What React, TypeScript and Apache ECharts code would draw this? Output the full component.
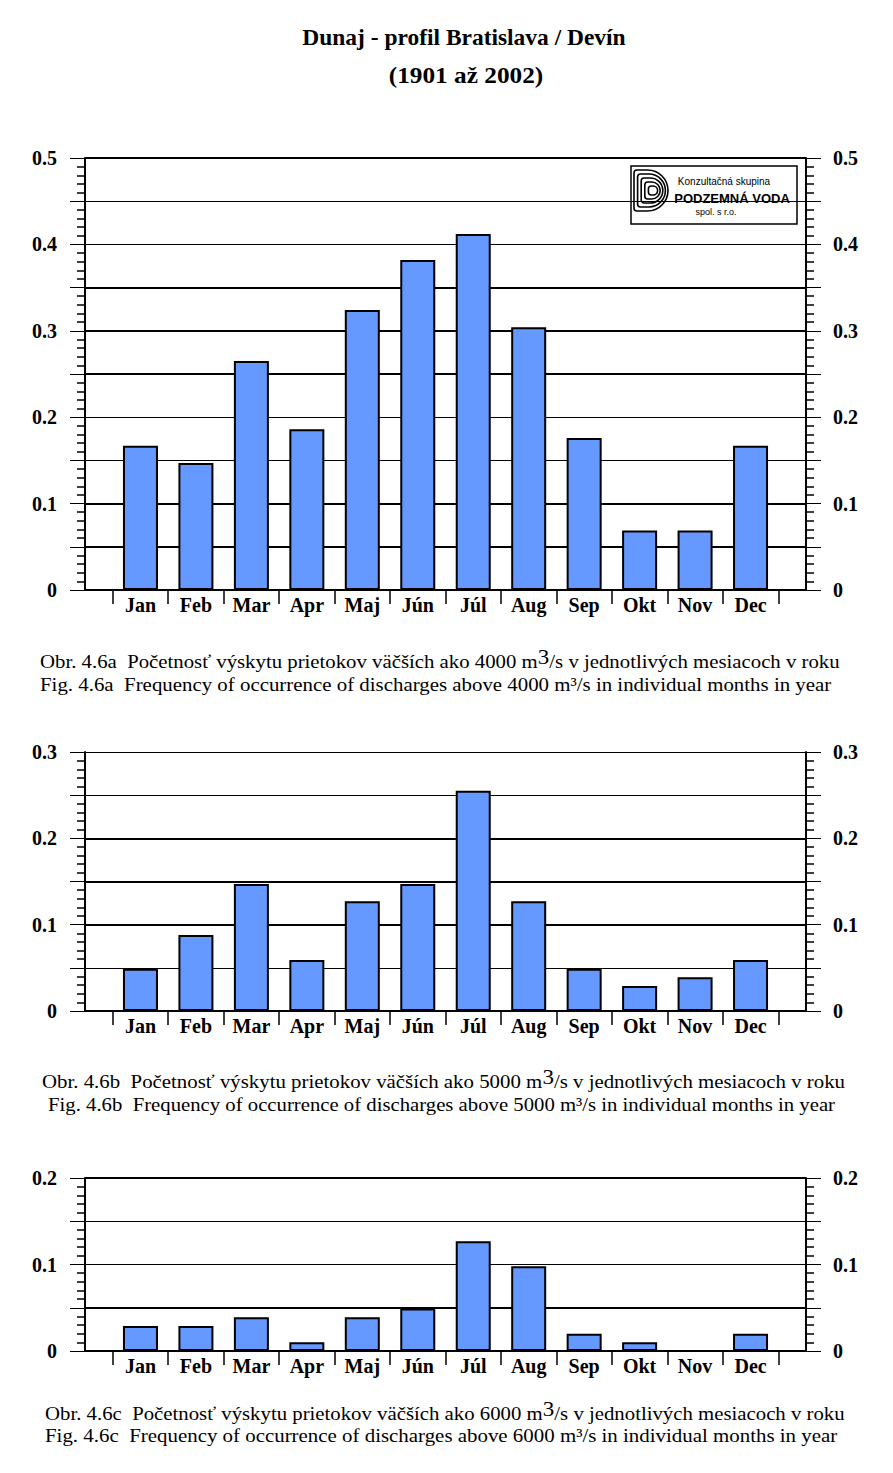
import React, { useEffect, useRef } from "react";
import * as echarts from "echarts";

const months = ["Jan", "Feb", "Mar", "Apr", "Maj", "Jún", "Júl", "Aug", "Sep", "Okt", "Nov", "Dec"];
const freqAbove4000 = [0.167, 0.147, 0.265, 0.186, 0.324, 0.382, 0.412, 0.304, 0.176, 0.069, 0.069, 0.167];
const freqAbove5000 = [0.049, 0.088, 0.147, 0.059, 0.127, 0.147, 0.255, 0.127, 0.049, 0.029, 0.039, 0.059];
const freqAbove6000 = [0.029, 0.029, 0.039, 0.010, 0.039, 0.049, 0.127, 0.098, 0.020, 0.010, 0, 0.020];
const axisMaxima = [0.5, 0.3, 0.2];
const heavyLines4000 = [0, 0.05, 0.1, 0.25, 0.3, 0.35, 0.5];
const heavyLines5000 = [0, 0.1, 0.15, 0.2];
const heavyLines6000 = [0, 0.05, 0.2];

const titleLines = ["Dunaj - profil Bratislava / Devín", "(1901 až 2002)"];
const captionsSk = [
  "Obr. 4.6a  Početnosť výskytu prietokov väčších ako 4000 m{sup|3}/s v jednotlivých mesiacoch v roku",
  "Obr. 4.6b  Početnosť výskytu prietokov väčších ako 5000 m{sup|3}/s v jednotlivých mesiacoch v roku",
  "Obr. 4.6c  Početnosť výskytu prietokov väčších ako 6000 m{sup|3}/s v jednotlivých mesiacoch v roku",
];
const captionsEn = [
  "Fig. 4.6a  Frequency of occurrence of discharges above 4000 m³/s in individual months in year",
  "Fig. 4.6b  Frequency of occurrence of discharges above 5000 m³/s in individual months in year",
  "Fig. 4.6c  Frequency of occurrence of discharges above 6000 m³/s in individual months in year",
];

const SERIF = "'Liberation Serif', 'Times New Roman', serif";
const SANS = "'Liberation Sans', Arial, sans-serif";

export default function App() {
  const ref = useRef<HTMLDivElement>(null);
  useEffect(() => {
    if (!ref.current) return;
    const chart = echarts.init(ref.current, null, { renderer: "svg" });

    const seriesData = [freqAbove4000, freqAbove5000, freqAbove6000];
    const heavy = [heavyLines4000, heavyLines5000, heavyLines6000];
    const layout = [
      { top: 158, height: 432 },
      { top: 752, height: 259 },
      { top: 1178, height: 173 },
    ];
    const outerLeft = 85;
    const outerWidth = 721;
    const slot = outerWidth / 13;

    const grids: any[] = [];
    const xAxes: any[] = [];
    const yAxes: any[] = [];
    const series: any[] = [];

    const fmt = (v: number) => {
      const r = Math.round(v * 100);
      if (r % 10 !== 0) return "";
      return r === 0 ? "0" : (r / 100).toFixed(1);
    };

    layout.forEach((l, k) => {
      const max = axisMaxima[k];
      const gOuter = grids.length;
      grids.push({ left: outerLeft, width: outerWidth, top: l.top, height: l.height });
      const gInner = grids.length;
      grids.push({ left: outerLeft + slot / 2, width: slot * 12, top: l.top, height: l.height });

      const xOuter = xAxes.length;
      xAxes.push({ gridIndex: gOuter, type: "value", min: 0, max: 1, show: false });
      const xInner = xAxes.length;
      xAxes.push({
        gridIndex: gInner,
        type: "category",
        data: months,
        boundaryGap: true,
        axisLine: { show: false },
        axisTick: { show: true, length: 14, lineStyle: { color: "#000", width: 1.5 } },
        axisLabel: {
          interval: 0,
          margin: 5,
          color: "#000",
          fontFamily: SERIF,
          fontWeight: "bold",
          fontSize: 20,
        },
      });

      const commonY = {
        type: "value",
        min: 0,
        max,
        interval: 0.05,
        axisLine: { show: true, lineStyle: { color: "#000", width: 2 } },
        axisTick: { show: true, length: 15, lineStyle: { color: "#000", width: 1 } },
        minorTick: { show: true, splitNumber: 5, length: 8, lineStyle: { color: "#000", width: 1.5 } },
        axisLabel: {
          formatter: fmt,
          margin: 28,
          color: "#000",
          fontFamily: SERIF,
          fontWeight: "bold",
          fontSize: 20,
        },
      };
      const yLeft = yAxes.length;
      yAxes.push({
        ...commonY,
        gridIndex: gOuter,
        position: "left",
        splitLine: { show: true, lineStyle: { color: "#000", width: 1 } },
      });
      yAxes.push({
        ...commonY,
        gridIndex: gOuter,
        position: "right",
        axisLabel: { ...commonY.axisLabel, margin: 27 },
        splitLine: { show: false },
      });
      const yInner = yAxes.length;
      yAxes.push({ gridIndex: gInner, type: "value", min: 0, max, show: false });

      series.push({
        type: "line",
        xAxisIndex: xOuter,
        yAxisIndex: yLeft,
        data: [],
        silent: true,
        markLine: {
          silent: true,
          symbol: "none",
          label: { show: false },
          lineStyle: { color: "#000", width: 2, type: "solid" },
          data: heavy[k].map((v) => ({ yAxis: v })),
        },
      });
      series.push({
        type: "bar",
        xAxisIndex: xInner,
        yAxisIndex: yInner,
        data: seriesData[k],
        barWidth: 35,
        itemStyle: { color: "#6699ff", borderColor: "#000", borderWidth: 2 },
        z: 5,
      });
    });

    const captionY = [[661, 684], [1081, 1104], [1413, 1435]];
    const captionX = [[40, 40], [42, 48], [45, 45]];
    const captionScale = [[1.094, 1.099], [1.097, 1.092], [1.094, 1.1]];

    const graphic: any[] = [
      {
        type: "text",
        x: 464,
        y: 37,
        scaleX: 1.02,
        style: {
          text: titleLines[0],
          fontFamily: SERIF,
          fontWeight: "bold",
          fontSize: 23,
          fill: "#000",
          align: "center",
          verticalAlign: "middle",
        },
      },
      {
        type: "text",
        x: 466,
        y: 75,
        scaleX: 1.1,
        style: {
          text: titleLines[1],
          fontFamily: SERIF,
          fontWeight: "bold",
          fontSize: 23,
          fill: "#000",
          align: "center",
          verticalAlign: "middle",
        },
      },
    ];
    captionsSk.forEach((t, k) => {
      graphic.push({
        type: "text",
        x: captionX[k][0],
        y: captionY[k][0],
        scaleX: captionScale[k][0],
        style: {
          text: t,
          fontFamily: SERIF,
          fontSize: 19,
          fontWeight: "normal",
          fill: "#000",
          align: "left",
          verticalAlign: "middle",
          rich: {
            sup: { fontSize: 21, fontFamily: SERIF, padding: [0, 0, 9, 0], verticalAlign: "bottom" },
          },
        },
      });
      graphic.push({
        type: "text",
        x: captionX[k][1],
        y: captionY[k][1],
        scaleX: captionScale[k][1],
        style: {
          text: captionsEn[k],
          fontFamily: SERIF,
          fontSize: 19,
          fontWeight: "normal",
          fill: "#000",
          align: "left",
          verticalAlign: "middle",
        },
      });
    });

    // Logo
    const logoShapes: any[] = [];
    [0, 1, 2, 3, 4].forEach((i) => {
      const x = 634 + i * 3.6;
      const y = 170 + i * 4;
      const w = 34 - i * 6.2;
      const h = 41 - i * 8;
      const rr = Math.min(h / 2, w);
      logoShapes.push({
        type: "rect",
        shape: { x, y, width: w, height: h, r: [3, rr, rr, 3] },
        style: { stroke: "#000", lineWidth: 1.6, fill: "none" },
      });
    });
    graphic.push({
      type: "group",
      children: [
        {
          type: "rect",
          shape: { x: 631, y: 166, width: 166, height: 58 },
          style: { stroke: "#000", lineWidth: 1.5, fill: "none" },
        },
        ...logoShapes,
        {
          type: "text",
          x: 724,
          y: 181,
          style: { text: "Konzultačná skupina", fontFamily: SANS, fontSize: 10, fill: "#000", align: "center", verticalAlign: "middle" },
        },
        {
          type: "text",
          x: 732,
          y: 198,
          style: { text: "PODZEMNÁ VODA", fontFamily: SANS, fontWeight: "bold", fontSize: 13, fill: "#000", align: "center", verticalAlign: "middle" },
        },
        {
          type: "text",
          x: 716,
          y: 212,
          style: { text: "spol. s r.o.", fontFamily: SANS, fontSize: 9, fill: "#000", align: "center", verticalAlign: "middle" },
        },
      ],
    });

    chart.setOption({
      animation: false,
      backgroundColor: "#fff",
      grid: grids,
      xAxis: xAxes,
      yAxis: yAxes,
      series,
      graphic,
    });
    return () => chart.dispose();
  }, []);

  return (
    <div
      ref={ref}
      style={{ position: "absolute", left: 0, top: 0, width: 893, height: 1473, background: "#fff" }}
    />
  );
}
